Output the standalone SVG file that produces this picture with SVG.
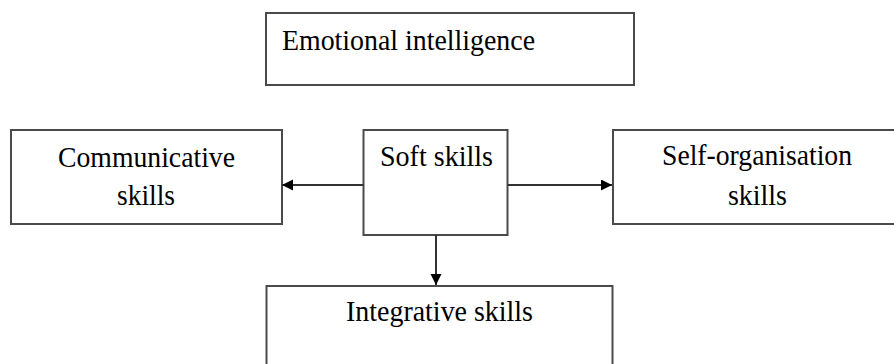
<svg xmlns="http://www.w3.org/2000/svg" width="894" height="364" viewBox="0 0 894 364">
  <defs>
    <style>
      .box { fill: #ffffff; stroke: #4a4a4a; stroke-width: 2; }
      .lbl { font-family: "Liberation Serif", "Times New Roman", serif; font-size: 30px; fill: #000000; }
      .conn { stroke: #333333; stroke-width: 2; fill: none; }
    </style>
    <marker id="arr" markerUnits="userSpaceOnUse" markerWidth="12" markerHeight="12" refX="11" refY="5.5" orient="auto">
      <path d="M0,0 L11,5.5 L0,11 Z" fill="#000000"/>
    </marker>
  </defs>
  <rect width="894" height="364" fill="#ffffff"/>

  <g id="emotional-intelligence">
    <rect class="box" x="266" y="13" width="368" height="72"/>
    <text class="lbl" x="282" y="50" textLength="253" lengthAdjust="spacingAndGlyphs">Emotional intelligence</text>
  </g>

  <g id="communicative-skills">
    <rect class="box" x="11" y="130" width="271" height="94"/>
    <text class="lbl" x="58" y="167" textLength="177" lengthAdjust="spacingAndGlyphs">Communicative</text>
    <text class="lbl" x="117" y="205" textLength="58" lengthAdjust="spacingAndGlyphs">skills</text>
  </g>

  <g id="soft-skills">
    <rect class="box" x="363.5" y="130" width="144" height="105"/>
    <text class="lbl" x="380" y="166" textLength="113" lengthAdjust="spacingAndGlyphs">Soft skills</text>
  </g>

  <g id="self-organisation-skills">
    <rect class="box" x="613" y="130" width="290" height="94"/>
    <text class="lbl" x="662" y="165" textLength="190" lengthAdjust="spacingAndGlyphs">Self-organisation</text>
    <text class="lbl" x="728" y="205" textLength="59" lengthAdjust="spacingAndGlyphs">skills</text>
  </g>

  <g id="integrative-skills">
    <rect class="box" x="266.5" y="286" width="346" height="100"/>
    <text class="lbl" x="346" y="321" textLength="187" lengthAdjust="spacingAndGlyphs">Integrative skills</text>
  </g>

  <g id="connectors">
    <line class="conn" x1="363.5" y1="185" x2="282" y2="185" marker-end="url(#arr)"/>
    <line class="conn" x1="507.5" y1="185" x2="612" y2="185" marker-end="url(#arr)"/>
    <line class="conn" x1="436" y1="235" x2="436" y2="285" marker-end="url(#arr)"/>
  </g>
</svg>
